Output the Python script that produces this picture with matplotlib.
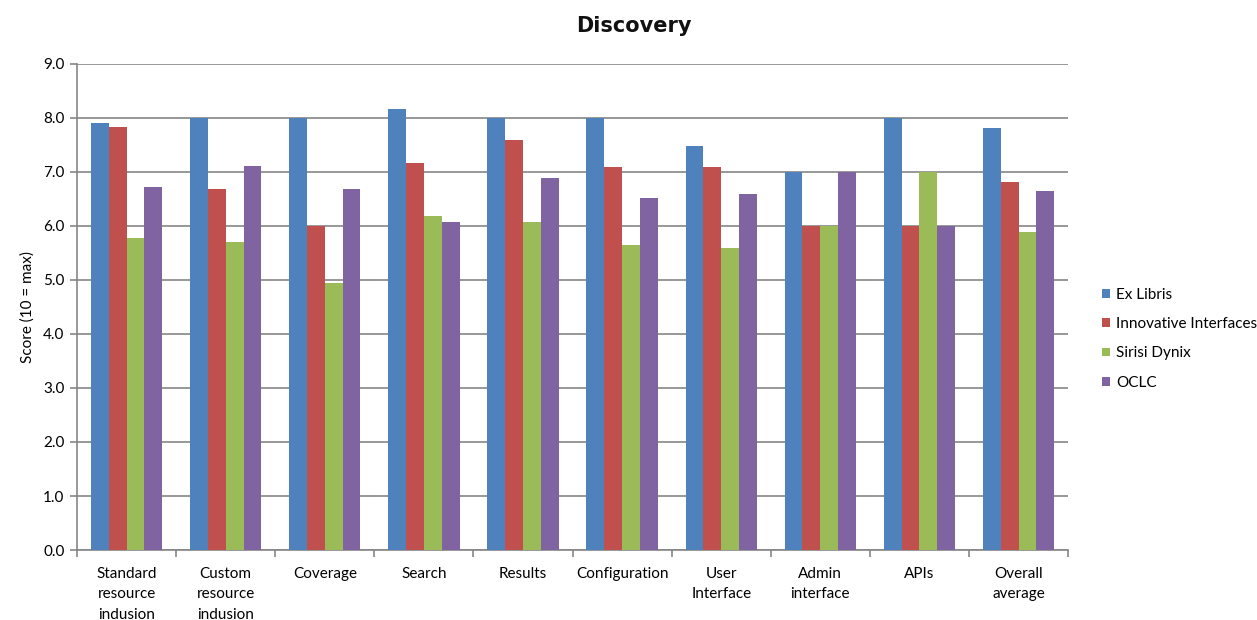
import numpy as np
from matplotlib import pyplot as plt

categories = ['Standard\nresource\nindusion', 'Custom\nresource\nindusion', 'Coverage', 'Search',
              'Results', 'Configuration', 'User\nInterface', 'Admin\ninterface', 'APIs', 'Overall\naverage']
series = ['Ex Libris', 'Innovative Interfaces', 'Sirisi Dynix', 'OCLC']

ex_libris = [7.90, 8.00, 8.00, 8.16, 8.00, 8.00, 7.49, 7.00, 8.00, 7.82]
innovative = [7.83, 6.68, 6.00, 7.16, 7.60, 7.09, 7.09, 6.00, 6.00, 6.82]
sirsi = [5.78, 5.71, 4.94, 6.19, 6.08, 5.64, 5.59, 6.00, 7.00, 5.89]
oclc = [6.72, 7.12, 6.68, 6.08, 6.89, 6.52, 6.60, 7.00, 6.00, 6.64]

colors = ['#4F81BD', '#C0504D', '#9BBB59', '#8064A2']

plt.rcParams['font.family'] = ['Lato', 'DejaVu Sans']

fig = plt.figure(figsize=(12.57, 6.2), dpi=100)
ax = fig.add_axes([0.0613, 0.1129, 0.7884, 0.7839])

x = np.arange(len(categories))
w = 0.18
for i, (vals, c, name) in enumerate(zip([ex_libris, innovative, sirsi, oclc], colors, series)):
    ax.bar(x + (i - 1.5) * w, vals, width=w, color=c, label=name, zorder=3)

ax.set_xlim(-0.5, len(categories) - 0.5)
ax.set_ylim(0, 9)
ax.set_yticks(np.arange(0, 9.5, 1.0))
ax.set_yticklabels(['%.1f' % v for v in np.arange(0, 9.5, 1.0)], fontsize=11)
ax.yaxis.grid(True, color='#868686', linewidth=1.2, zorder=0)

ax.set_xticks(x)
ax.set_xticklabels(categories, fontsize=11, linespacing=1.6, va='top')
ax.set_xticks(np.arange(-0.5, len(categories), 1.0), minor=True)
ax.tick_params(axis='x', which='major', length=0, pad=12)
ax.tick_params(axis='x', which='minor', length=5, color='#868686', width=1.2)
ax.tick_params(axis='y', length=5, color='#868686', width=1.2, pad=4)

for s in ['top', 'right']:
    ax.spines[s].set_visible(False)
for s in ['left', 'bottom']:
    ax.spines[s].set_color('#868686')
    ax.spines[s].set_linewidth(1.2)

ax.set_ylabel('Score (10 = max)', fontsize=11, labelpad=6)
fig.text(0.5045, 0.958, 'Discovery', ha='center', va='center', fontsize=15, fontweight='bold',
         family='DejaVu Sans', color='#111111')

fig.legend(loc='upper left', bbox_to_anchor=(0.866, 0.558), frameon=False, fontsize=11,
           handlelength=0.5, handleheight=0.5, handletextpad=0.4, labelspacing=1.0)

plt.savefig('out.png', dpi=100)
